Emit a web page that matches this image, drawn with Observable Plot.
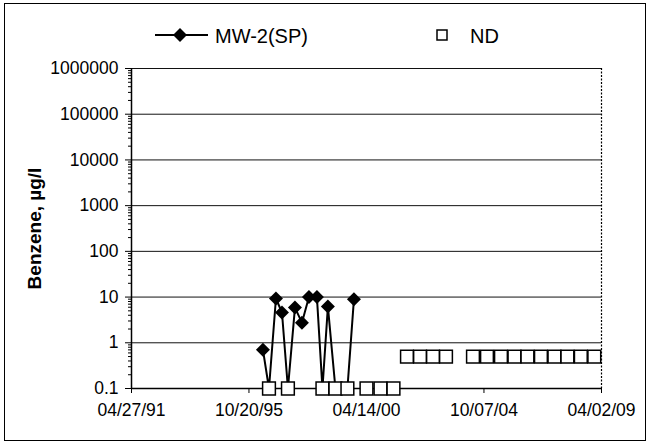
<!DOCTYPE html>
<html>
<head>
<meta charset="utf-8">
<script src="https://cdn.jsdelivr.net/npm/d3@7"></script>
<script src="https://cdn.jsdelivr.net/npm/@observablehq/plot@0.6"></script>
<style>
  body { margin: 0; background: #fff; }
  #wrap { position: relative; width: 650px; height: 444px; font-family: "Liberation Sans", Arial, sans-serif; overflow: hidden; }
  #frame { position: absolute; left: 4px; top: 3px; width: 642px; height: 438px; border: 1px solid #000; box-sizing: border-box; pointer-events: none; }
  #legend { position: absolute; left: 0; top: 0; }
  #chart svg { display: block; }
  g[aria-label="y-axis label"] text, g[aria-label="y-axis label"] { font-weight: bold; font-size: 19px; }
</style>
</head>
<body>
<div id="wrap">
  <div id="chart"></div>
  <svg id="legend" width="650" height="60"></svg>
  <div id="frame"></div>
</div>
<script>
// ---- data ----
const seriesName = "MW-2(SP)";
const ndName = "ND";
const yLabel = "Benzene, µg/l";

// MW-2(SP) series: sample dates and benzene values (non-detects plotted at 0.1)
const mwDates  = ["1996-05-02","1996-07-25","1996-10-30","1997-01-22","1997-04-15","1997-07-22","1997-10-27","1998-02-02","1998-05-24","1998-08-09","1998-10-24","1999-02-06","1999-07-23","1999-10-22"];
const mwValues = [0.7, 0.1, 9.3, 4.6, 0.1, 5.9, 2.75, 10, 10, 0.1, 6.2, 0.1, 0.1, 9];

// ND series: non-detect sample dates and reporting values
const ndDates  = ["1996-07-25","1997-04-15","1998-08-09","1999-02-06","1999-07-23","2000-04-14","2000-10-26","2001-04-25",
                  "2001-10-30","2002-04-30","2002-10-28","2003-04-27",
                  "2004-05-07","2004-11-18","2005-06-01","2005-12-06","2006-06-05","2006-12-10","2007-06-16","2007-12-14","2008-06-18","2008-12-23"];
const ndValues = [0.1, 0.1, 0.1, 0.1, 0.1, 0.1, 0.1, 0.1,
                  0.5, 0.5, 0.5, 0.5,
                  0.5, 0.5, 0.5, 0.5, 0.5, 0.5, 0.5, 0.5, 0.5, 0.5];

// axes
const xDomainDates = ["1991-04-27", "2009-04-02"];
const xTickDates = ["1991-04-27", "1995-10-20", "2000-04-14", "2004-10-07", "2009-04-02"];
const yDomain = [0.1, 1000000];
const yTicks = [0.1, 1, 10, 100, 1000, 10000, 100000, 1000000];
const yTickLabels = ["0.1", "1", "10", "100", "1000", "10000", "100000", "1000000"];

// ---- build ----
const parse = d3.utcParse("%Y-%m-%d");
const mw = mwDates.map((d, i) => ({date: parse(d), value: mwValues[i]}));
const ndSet = new Set(ndDates);
const mwDetected = mw.filter((d, i) => !ndSet.has(mwDates[i]));
const nd = ndDates.map((d, i) => ({date: parse(d), value: ndValues[i]}));
const xDomain = xDomainDates.map(parse);
const xTicks = xTickDates.map(parse);
const minorTicks = [];
for (let e = -1; e < 6; e++) for (let m = 2; m <= 9; m++) minorTicks.push(+(m * Math.pow(10, e)).toPrecision(3));

const fmt = d3.utcFormat("%m/%d/%y");

const chart = Plot.plot({
  width: 650,
  height: 444,
  marginLeft: 131,
  marginRight: 49,
  marginTop: 68,
  marginBottom: 56,
  style: { fontFamily: '"Liberation Sans", Arial, sans-serif', fontSize: "17.5px", color: "#000", background: "transparent" },
  x: { type: "utc", domain: xDomain },
  y: { type: "log", domain: yDomain },
  marks: [
    Plot.gridY(yTicks.slice(1), { stroke: "#111", strokeOpacity: 1, strokeWidth: 1 }),
    Plot.ruleX([xDomain[1]], { stroke: "#000", strokeWidth: 1.2, strokeDasharray: "2,1.5" }),
    Plot.axisY(minorTicks, { tickSize: 3, text: null, label: null, stroke: "#000" }),
    Plot.axisY(yTicks, {
      tickSize: 6, tickPadding: 7,
      tickFormat: d => yTickLabels[yTicks.indexOf(d)],
      label: yLabel, labelAnchor: "center", labelOffset: 104, labelArrow: "none"
    }),
    Plot.axisX(xTicks, { tickSize: 5, tickPadding: 10, tickFormat: fmt, label: null }),
    Plot.ruleY([yDomain[0]], { stroke: "#000", strokeWidth: 1.5 }),
    Plot.ruleX([xDomain[0]], { stroke: "#000", strokeWidth: 1.5 }),
    Plot.line(mw, { x: "date", y: "value", stroke: "#000", strokeWidth: 2 }),
    Plot.dot(mwDetected, { x: "date", y: "value", symbol: "diamond2", r: 6.3, fill: "#000" }),
    Plot.dot(nd, { x: "date", y: "value", symbol: "square", r: 7.2, fill: "#fff", stroke: "#000", strokeWidth: 1.5 })
  ]
});
document.getElementById("chart").appendChild(chart);

// ---- legend ----
const lg = d3.select("#legend");
lg.append("line").attr("x1", 155).attr("x2", 208).attr("y1", 35).attr("y2", 35).attr("stroke", "#000").attr("stroke-width", 2);
lg.append("path").attr("d", "M180,28L187,35L180,42L173,35Z").attr("fill", "#000");
lg.append("text").attr("x", 215).attr("y", 43).attr("font-size", 20).attr("font-family", '"Liberation Sans", Arial, sans-serif').text(seriesName);
lg.append("rect").attr("x", 437).attr("y", 30).attr("width", 10).attr("height", 10).attr("fill", "#fff").attr("stroke", "#000").attr("stroke-width", 1.5);
lg.append("text").attr("x", 470).attr("y", 43).attr("font-size", 20).attr("font-family", '"Liberation Sans", Arial, sans-serif').text(ndName);
</script>
</body>
</html>
